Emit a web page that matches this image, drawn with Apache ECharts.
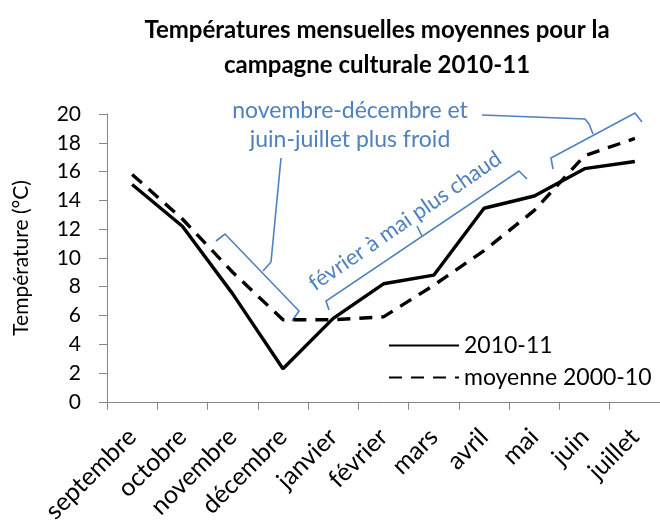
<!DOCTYPE html>
<html>
<head>
<meta charset="utf-8">
<script src="https://cdn.jsdelivr.net/npm/echarts@6/dist/echarts.min.js"></script>
<style>html,body{margin:0;padding:0;background:#fff;}#c{width:660px;height:526px;}</style>
</head>
<body>
<div id="c"></div>
<script>
const months = ['septembre','octobre','novembre','décembre','janvier','février','mars','avril','mai','juin','juillet'];
const temp2010 = [15.1, 12.2, 7.5, 2.3, 5.8, 8.2, 8.8, 13.45, 14.3, 16.2, 16.7];
const moy2000 = [15.8, 12.7, 9.0, 5.7, 5.7, 5.9, 8.1, 10.5, 13.3, 17.1, 18.3];
const yTicks = [0, 20, 2];
const seriesNames = ['2010-11', 'moyenne 2000-10'];
const annoColdLines = ['novembre-décembre et', 'juin-juillet plus froid'];
const annoWarm = 'février à mai plus chaud';

const FONT = 'Lato';
const BLUE = '#4F81BD';
const AX = '#868686';
const chart = echarts.init(document.getElementById('c'), null, {renderer: 'canvas'});

function pl(points) {
  return {type: 'polyline', shape: {points: points}, style: {stroke: BLUE, lineWidth: 1.6, fill: null}, silent: true};
}

chart.setOption({
  animation: false,
  backgroundColor: '#fff',
  title: {
    text: 'Températures mensuelles moyennes pour la\ncampagne culturale 2010-11',
    left: 372, top: 8, textAlign: 'center',
    textStyle: {fontFamily: FONT, fontWeight: 'bold', fontSize: 24, lineHeight: 35, color: '#000'}
  },
  legend: {
    orient: 'vertical', left: 383, top: 329,
    itemWidth: 70, itemHeight: 22, itemGap: 9,
    itemStyle: {opacity: 0},
    textStyle: {fontFamily: FONT, fontSize: 23, lineHeight: 22, color: '#000'},
    data: seriesNames
  },
  grid: {left: 107, top: 114, width: 553, height: 290, containLabel: false},
  xAxis: {
    type: 'category', data: months, boundaryGap: true,
    axisLine: {lineStyle: {color: AX, width: 1}},
    axisTick: {show: true, length: 8, lineStyle: {color: AX}, alignWithLabel: false},
    axisLabel: {rotate: 45, margin: 31, fontFamily: FONT, fontSize: 25, color: '#000', interval: 0}
  },
  yAxis: {
    type: 'value', min: yTicks[0], max: yTicks[1], interval: yTicks[2],
    name: 'Température (°C)', nameLocation: 'middle', nameGap: 75,
    nameTextStyle: {fontFamily: FONT, fontSize: 21, color: '#000'},
    axisLine: {show: true, lineStyle: {color: AX, width: 1}},
    axisTick: {show: true, length: 8, lineStyle: {color: AX}},
    splitLine: {show: false},
    axisLabel: {margin: 26, fontFamily: FONT, fontSize: 21, color: '#000'}
  },
  series: [
    {name: seriesNames[0], type: 'line', data: temp2010, symbol: 'none', showSymbol: false,
     lineStyle: {color: '#000', width: 3.4, type: 'solid'}, itemStyle: {color: '#000'}},
    {name: seriesNames[1], type: 'line', data: moy2000, symbol: 'none', showSymbol: false,
     lineStyle: {color: '#000', width: 3.4, type: [13, 9]}, itemStyle: {color: '#000'}}
  ],
  graphic: [
    {type: 'text', silent: true,
     style: {text: annoColdLines.join('\n'), x: 350, y: 96, fill: BLUE, font: '23px ' + FONT, textAlign: 'center', lineHeight: 29}},
    pl([[216,241],[225,234],[299,311],[292,321]]),
    pl([[263,271],[271,262],[281,158]]),
    pl([[553,169],[551,158],[635,113],[642,122]]),
    pl([[593,134],[589,124],[585,119],[482,115]]),
    pl([[329,310],[326,301],[519,171],[527,179]]),
    pl([[422,236],[417,226]]),
    {type: 'text', x: 405, y: 221, rotation: 34.5 * Math.PI / 180, silent: true,
     style: {text: annoWarm, x: 0, y: 0, fill: BLUE, font: '22px ' + FONT, textAlign: 'center', textVerticalAlign: 'middle'}}
  ]
});
</script>
</body>
</html>
